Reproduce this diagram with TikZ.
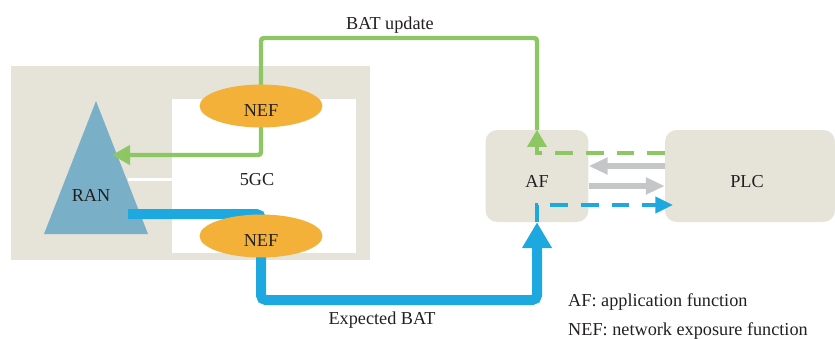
\documentclass[tikz,border=0pt]{standalone}
\usepackage{fontspec}
\setmainfont{Liberation Serif}
\usetikzlibrary{arrows.meta,shapes.geometric}
\definecolor{sand}{RGB}{230,227,217}
\definecolor{ranblue}{RGB}{122,176,199}
\definecolor{nefor}{RGB}{244,177,58}
\definecolor{updgreen}{RGB}{140,199,100}
\definecolor{expblue}{RGB}{30,168,224}
\definecolor{msggray}{RGB}{197,198,200}
\definecolor{ink}{RGB}{35,31,32}

\begin{document}
\begin{tikzpicture}[x=0.85pt, y=-0.85pt,
  every node/.style={text=ink, font=\fontsize{15.5}{18}\selectfont},
  txt/.style={anchor=base, inner sep=0pt},
  func/.style={fill=sand, rounded corners=10pt, minimum height=78.2pt, inner sep=0pt},
  nef/.style={ellipse, fill=nefor, minimum width=104.5pt, minimum height=36.5pt, inner sep=0pt},
  upd/.style={updgreen, line width=3.8pt, rounded corners=2.5pt},
  exp/.style={expblue, line width=8.5pt, rounded corners=4pt},
  msg/.style={msggray, line width=4.7pt, -{Triangle[length=16pt, width=13.6pt]}},
  dashline/.style={line width=3.4pt, dash pattern=on 15pt off 11pt}]
\useasboundingbox (0,0) rectangle (835,338);
% ---- access + core area (left) ----
\fill[sand]  (11,66) rectangle (370,260);     % RAN side
\fill[white] (172,99) rectangle (356,253);    % 5GC
\fill[white] (128,178) rectangle (172,181);   % divider
\fill[ranblue] (96,101) -- (148,234) -- (44,234) -- cycle;  % RAN
\node[txt] (ran) at (91,201) {RAN};
\node[txt] (core) at (257,185) {5GC};
% ---- bend points of the two loops ----
\coordinate (rantip) at (112,155);
\coordinate (ranout) at (128,214);
\coordinate (updbend) at (537,153);
\coordinate (expbend) at (537,205);
\coordinate (exptip) at (673,205);
% ---- AF and PLC ----
\node[func, minimum width=87.5pt] (af) at (537,176) {};
\node[func, minimum width=144.5pt] (plc) at (750,176) {};
\node[txt] (aftxt) at (537,187) {AF};
\node[txt] (plctxt) at (747,187) {PLC};
% BAT update: AF -> NEF -> RAN (green)
\draw[upd, -{Triangle[length=15.3pt, width=16pt]}]
  (af.north) -- (537,38) -- (261,38) -- (261,155) -- (rantip);
% expected BAT: RAN -> NEF -> AF (blue)
\draw[exp, -{Triangle[length=22pt, width=24pt]}]
  (ranout) -- (261,214) -- (261,300) -- (537,300) -- (af.south);
% NEFs sit on top of both loops
\node[nef] (nefup) at (261,106) {};
\node[txt] at (nefup.center) [yshift=-8.5pt] (neftxta) {NEF};
\node[nef] (neflow) at (261,236) {};
\node[txt] at (neflow.center) [yshift=-9.3pt] (neftxtb) {NEF};
% ---- AF <-> PLC ----
\draw[msg] ([yshift=8.5pt]plc.west) -- ([yshift=8.5pt]af.east);
\draw[msg] ([yshift=-8.5pt]af.east) -- ([yshift=-8.5pt]plc.west);
\draw[updgreen, dashline, -{Triangle[length=14.5pt, width=16pt]}]
  (plc.west |- updbend) -- (updbend) -- (af.north);
\draw[expblue, dashline, -{Triangle[length=15pt, width=13.6pt]}]
  (af.south) -- (expbend) -- (exptip);
% ---- labels ----
\node[txt] (updlbl) at (390,29) {BAT update};
\node[txt] (explbl) at (382,324) {Expected BAT};
\node[txt, anchor=base west] (leg1) at (568,306) {AF: application function};
\node[txt, anchor=base west] (leg2) at (568,335) {NEF: network exposure function};
\end{tikzpicture}
\end{document}
